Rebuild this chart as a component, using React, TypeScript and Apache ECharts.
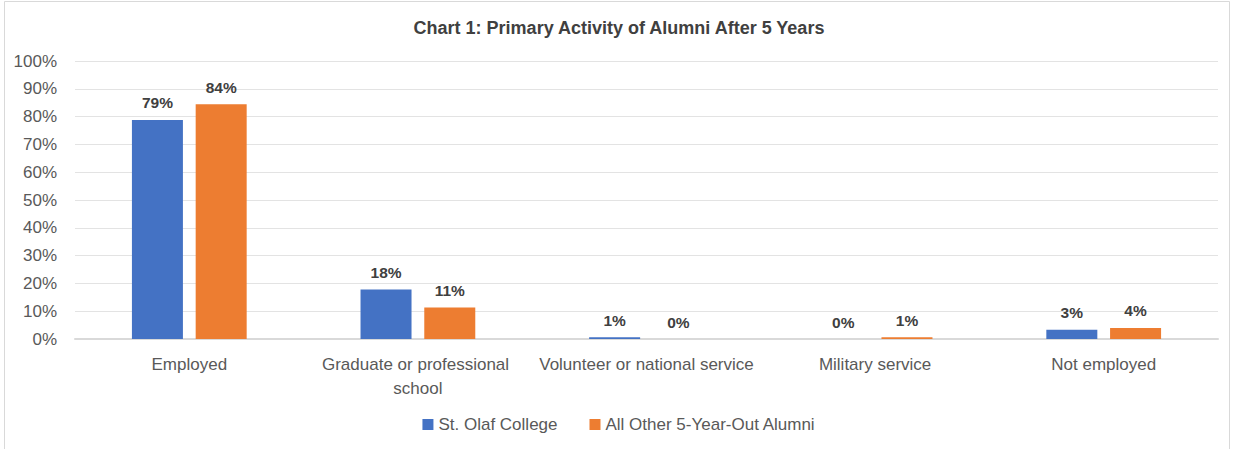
import React, { useEffect, useRef } from "react";
import * as echarts from "echarts";

const categories = [
  "Employed",
  "Graduate or professional school",
  "Volunteer or national service",
  "Military service",
  "Not employed",
];
const stOlaf = [78.8, 17.8, 0.6, 0, 3.3];
const allOther = [84.4, 11.3, 0, 0.6, 4.0];
const seriesNames = ["St. Olaf College", "All Other 5-Year-Out Alumni"];
const yTicks = [0, 10, 20, 30, 40, 50, 60, 70, 80, 90, 100];

const FONT = "'Liberation Sans', Arial, sans-serif";

export default function App() {
  const ref = useRef<HTMLDivElement>(null);
  useEffect(() => {
    document.body.style.margin = "0";
    const chart = echarts.init(ref.current!, null, { renderer: "svg" });
    const labelCfg = {
      show: true,
      position: "top",
      distance: 9,
      fontFamily: FONT,
      fontWeight: "bold",
      fontSize: 15.5,
      color: "#404040",
      formatter: (p: any) => Math.round(p.value) + "%",
    };
    chart.setOption({
      animation: false,
      backgroundColor: "#ffffff",
      textStyle: { fontFamily: FONT },
      title: {
        text: "Chart 1: Primary Activity of Alumni After 5 Years",
        left: "center",
        top: 14,
        textStyle: { fontFamily: FONT, fontWeight: "bold", fontSize: 18, color: "#404040" },
      },
      graphic: [
        {
          type: "rect",
          shape: { x: 4.5, y: 1.5, width: 1225, height: 470 },
          style: { fill: "none", stroke: "#d9d9d9", lineWidth: 1 },
          silent: true,
        },
      ],
      legend: {
        top: 411,
        left: "center",
        itemWidth: 11,
        itemHeight: 11,
        itemGap: 32,
        icon: "rect",
        textStyle: { fontFamily: FONT, fontSize: 17, color: "#595959" },
        data: seriesNames,
      },
      grid: { left: 75, right: 20, top: 61, bottom: 110, containLabel: false },
      xAxis: {
        type: "category",
        data: categories,
        axisLine: { lineStyle: { color: "#d9d9d9", width: 2 } },
        axisTick: { show: false },
        axisLabel: {
          fontFamily: FONT,
          fontSize: 17,
          color: "#595959",
          margin: 13,
          width: 228,
          overflow: "break",
          lineHeight: 24,
          interval: 0,
        },
      },
      yAxis: {
        type: "value",
        min: 0,
        max: 100,
        interval: 10,
        axisLine: { show: false },
        axisTick: { show: false },
        splitLine: { lineStyle: { color: "#e3e3e3", width: 1 } },
        axisLabel: {
          fontFamily: FONT,
          fontSize: 17,
          color: "#595959",
          margin: 18,
          formatter: (v: number) => (yTicks.includes(v) ? v + "%" : ""),
        },
      },
      series: [
        {
          name: seriesNames[0],
          type: "bar",
          data: stOlaf,
          barWidth: 51,
          barGap: "25%",
          itemStyle: { color: "#4472c4" },
          label: labelCfg,
        },
        {
          name: seriesNames[1],
          type: "bar",
          data: allOther,
          barWidth: 51,
          barGap: "25%",
          itemStyle: { color: "#ed7d31" },
          label: labelCfg,
        },
      ],
    });
    return () => chart.dispose();
  }, []);
  return <div ref={ref} style={{ width: 1238, height: 449 }} />;
}
